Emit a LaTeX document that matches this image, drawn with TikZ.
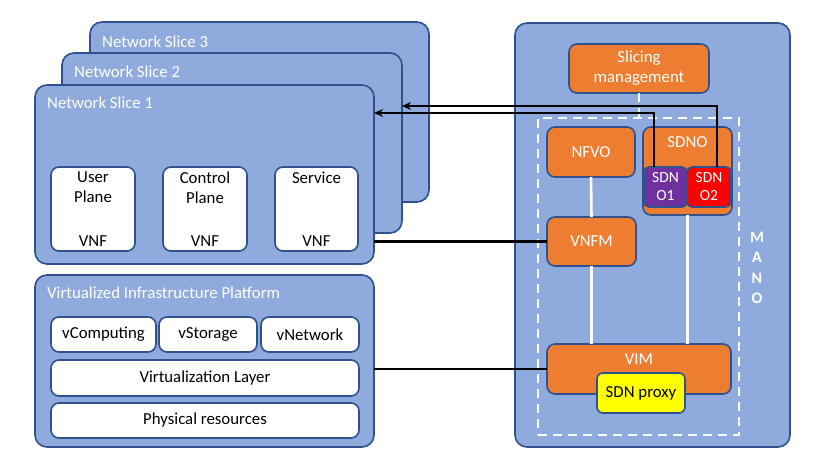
\documentclass[tikz,border=0pt]{standalone}
\usepackage{fontspec}
\setmainfont{Carlito}
\usetikzlibrary{arrows.meta}
\definecolor{bluef}{HTML}{8FAADC}
\definecolor{bordc}{HTML}{2F528F}
\definecolor{orangef}{HTML}{ED7D31}
\definecolor{purplef}{HTML}{7030A0}
\definecolor{redf}{HTML}{FF0000}
\definecolor{yellowf}{HTML}{FFFF00}
\tikzset{
  box/.style={draw=bordc, line width=1.6pt, anchor=north west, inner sep=0pt, outer sep=0pt},
  bluebox/.style={box, fill=bluef, rounded corners=12pt},
  whitebox/.style={box, fill=white, rounded corners=8pt},
  orangebox/.style={box, fill=orangef, rounded corners=8pt},
  wtxt/.style={text=white, inner sep=0pt, font=\fontsize{16.8}{20}\selectfont, align=center},
  btxt/.style={text=black, inner sep=0pt, font=\fontsize{16.8}{20}\selectfont, align=center},
  link/.style={draw=black, line width=2.4pt},
  arr/.style={link, -{Stealth[length=9pt,width=8pt]}},
  wline/.style={draw=white, line width=2.6pt},
}
\begin{document}
\begin{tikzpicture}[x=1pt,y=-1pt]
\useasboundingbox[fill=white] (0,0) rectangle (829,459);
% network slices
\node[bluebox, minimum width=339pt, minimum height=180pt] (slice3) at (90,22) {};
\node[wtxt, anchor=west] (t3) at (102,42) {Network Slice 3};
\node[bluebox, minimum width=340pt, minimum height=180pt] (slice2) at (62,53) {};
\node[wtxt, anchor=west] (t2) at (74,72) {Network Slice 2};
\node[bluebox, minimum width=339pt, minimum height=179pt] (slice1) at (35,85) {};
\node[wtxt, anchor=west] (t1) at (47,103) {Network Slice 1};
\node[whitebox, minimum width=84pt, minimum height=84pt] (up) at (51,167) {};
\node[whitebox, minimum width=84pt, minimum height=84pt] (cp) at (163,167) {};
\node[whitebox, minimum width=83pt, minimum height=84pt] (sv) at (275,167) {};
\node[btxt, anchor=north] (upt) at ([yshift=-5pt]up.north) {User\\Plane};
\node[btxt, anchor=north] (cpt) at ([yshift=-5pt]cp.north) {Control\\Plane};
\node[btxt, anchor=north] (svt) at ([yshift=-5pt]sv.north) {Service};
\node[btxt] (upv) at ([yshift=10pt]up.south) {VNF};
\node[btxt] (cpv) at ([yshift=10pt]cp.south) {VNF};
\node[btxt] (svv) at ([yshift=10pt]sv.south) {VNF};
% virtualized infrastructure platform
\node[bluebox, minimum width=339pt, minimum height=172pt] (vip) at (35,275) {};
\node[wtxt, anchor=west] (vipt) at (47,293) {Virtualized Infrastructure Platform};
\node[whitebox, minimum width=105pt, minimum height=35pt] (vc) at (51,317) {};
\node[btxt] at (vc.center) {vComputing};
\node[whitebox, minimum width=98pt, minimum height=35pt] (vs) at (159,317) {};
\node[btxt] at (vs.center) {vStorage};
\node[whitebox, minimum width=98pt, minimum height=35pt] (vn) at (261,317) {};
\node[btxt] at (vn.center) {vNetwork};
\node[whitebox, minimum width=308pt, minimum height=36pt] (vl) at (51,360) {};
\node[btxt] at (vl.center) {Virtualization Layer};
\node[whitebox, minimum width=308pt, minimum height=35pt] (pr) at (51,403) {};
\node[btxt] at (pr.center) {Physical resources};
% MANO
\node[bluebox, minimum width=275pt, minimum height=424pt] (mano) at (515,23) {};
\node[orangebox, minimum width=140pt, minimum height=49pt] (sm) at (569,44) {};
\node[wtxt] (smt) at (sm.center) {Slicing\\management};
\node[box, draw=white, dashed, dash pattern=on 9pt off 6pt, line width=2pt, minimum width=201pt, minimum height=317pt] (dbox) at (538,118) {};
\draw[white, line width=2pt, dash pattern=on 9pt off 6pt] (sm.south) -- (sm.south |- dbox.north);
\node[orangebox, minimum width=88pt, minimum height=50pt] (nfvo) at (547,127) {};
\node[wtxt] at (nfvo.center) {NFVO};
\node[orangebox, minimum width=89pt, minimum height=88pt] (sdno) at (643,127) {};
\node[wtxt, anchor=center] (sdnot) at (687.5,142) {SDNO};
\node[box, fill=purplef, rounded corners=5pt, minimum width=43pt, minimum height=40pt] (sdno1) at (644,167) {};
\node[wtxt, font=\fontsize{15.5}{18}\selectfont] at (sdno1.center) {SDN\\O1};
\node[box, fill=redf, rounded corners=5pt, minimum width=44pt, minimum height=40pt] (sdno2) at (687,167) {};
\node[wtxt, font=\fontsize{15.5}{18}\selectfont] at (sdno2.center) {SDN\\O2};
\node[orangebox, minimum width=89pt, minimum height=49pt] (vnfm) at (547,217) {};
\node[wtxt] at (vnfm.center) {VNFM};
\node[orangebox, minimum width=184pt, minimum height=50pt] (vim) at (547,344) {};
\node[wtxt] (vimt) at (639,359) {VIM};
\node[box, fill=yellowf, rounded corners=6pt, minimum width=88pt, minimum height=40pt] (proxy) at (597,373) {};
\node[btxt] at (proxy.center) {SDN proxy};
\node[wtxt, font=\bfseries\fontsize{16}{20.5}\selectfont] (manot) at (757,268) {M\\A\\N\\O};
% white internal links
\draw[wline] (nfvo.south) -- (vnfm.north);
\draw[wline] (vnfm.south) -- (vnfm.south |- vim.north);
\draw[wline] (sdno.south) -- (sdno.south |- vim.north);
% black links
\coordinate (c1) at (654,113);
\coordinate (c2) at (717,106);
\draw[arr] (sdno1.north -| c1) -- (c1) -- (slice1.east |- c1);
\draw[arr] (sdno2.north -| c2) -- (c2) -- (slice2.east |- c2);
\draw[link] (slice1.east |- vnfm.west) -- (vnfm.west);
\draw[link] (vip.east |- vim.west) -- (vim.west);
\end{tikzpicture}
\end{document}
